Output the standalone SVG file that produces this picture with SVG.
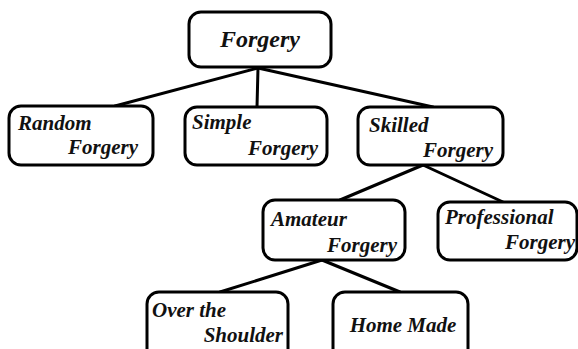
<svg xmlns="http://www.w3.org/2000/svg" width="578" height="349" viewBox="0 0 578 349">
<style>
.box{fill:#fff;stroke:#000;stroke-width:3}
.t{font-family:"Liberation Serif","Times New Roman",serif;font-weight:bold;font-style:italic;font-size:21px;fill:#111}
.big{font-size:24px}
.c line{stroke:#000;stroke-width:3;stroke-linecap:round}
</style>
<rect width="578" height="349" fill="#fff"/>
<g class="c" id="connectors">
<line x1="258" y1="68" x2="115" y2="106"/>
<line x1="258" y1="68" x2="257" y2="107"/>
<line x1="258" y1="68" x2="433" y2="107"/>
<line x1="423" y1="165" x2="340" y2="200"/>
<line x1="423" y1="165" x2="503" y2="202"/>
<line x1="322" y1="260" x2="220" y2="292"/>
<line x1="322" y1="260" x2="400" y2="292"/>
</g>
<g id="forgery">
<rect class="box" x="189" y="12" width="142" height="55" rx="12"/>
<text class="t big" x="260" y="47" text-anchor="middle">Forgery</text>
</g>
<g id="random">
<rect class="box" x="9" y="106" width="144" height="59" rx="12"/>
<text class="t" x="18" y="130">Random</text>
<text class="t" x="138" y="154" text-anchor="end">Forgery</text>
</g>
<g id="simple">
<rect class="box" x="185" y="107" width="142" height="58" rx="12"/>
<text class="t" x="192" y="129">Simple</text>
<text class="t" x="318" y="155" text-anchor="end">Forgery</text>
</g>
<g id="skilled">
<rect class="box" x="358" y="107" width="145" height="58" rx="12"/>
<text class="t" x="369" y="132">Skilled</text>
<text class="t" x="493" y="157" text-anchor="end">Forgery</text>
</g>
<g id="amateur">
<rect class="box" x="263" y="200" width="142" height="60" rx="12"/>
<text class="t" x="271" y="226">Amateur</text>
<text class="t" x="397" y="252" text-anchor="end">Forgery</text>
</g>
<g id="professional">
<rect class="box" x="438" y="202" width="139" height="58" rx="12"/>
<text class="t" x="445" y="224">Professional</text>
<text class="t" x="575" y="249" text-anchor="end">Forgery</text>
</g>
<g id="over">
<rect class="box" x="147" y="292" width="141" height="70" rx="12"/>
<text class="t" x="152" y="317">Over the</text>
<text class="t" x="283" y="342" text-anchor="end">Shoulder</text>
</g>
<g id="home">
<rect class="box" x="333" y="292" width="135" height="70" rx="12"/>
<text class="t" x="403" y="332" text-anchor="middle">Home Made</text>
</g>
</svg>
